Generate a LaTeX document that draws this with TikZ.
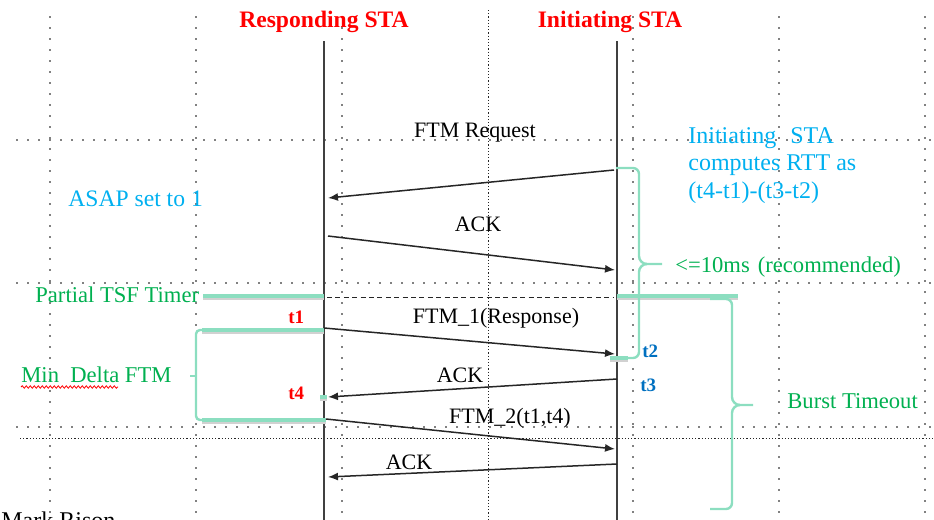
\documentclass[tikz,border=0pt]{standalone}
\usepackage{fontspec}
\setmainfont{Liberation Serif}
\usetikzlibrary{arrows.meta,decorations.pathmorphing}
\definecolor{hdred}{RGB}{255,0,0}
\definecolor{txtcyan}{RGB}{0,176,240}
\definecolor{txtgreen}{RGB}{0,176,80}
\definecolor{mint}{RGB}{140,222,192}
\definecolor{tblue}{RGB}{0,112,192}
\begin{document}
\begin{tikzpicture}[x=0.5pt, y=-0.5pt, >={Latex[length=5pt,width=4pt]},
    font=\fontsize{11}{13}\selectfont,
    griddot/.style={black, line width=0.9pt, line cap=round, dash pattern=on 0pt off 5.5pt},
    griddense/.style={black!85, line width=0.5pt, dash pattern=on 0.6pt off 1pt},
    life/.style={black!75, line width=1pt},
    msg/.style={->, black!85, line width=0.75pt},
    lbl/.style={anchor=base, inner sep=0pt},
    hdr/.style={anchor=base, inner sep=0pt, text=hdred, font=\fontsize{11.8}{14}\selectfont\bfseries},
    note/.style={anchor=base west, inner sep=0pt, text=txtgreen, font=\fontsize{11.3}{13}\selectfont},
    tlbl/.style={anchor=base west, inner sep=0pt, font=\fontsize{9.5}{11}\selectfont\bfseries},
    mintbar/.style={mint, line width=2pt, preaction={draw=black!18, line width=2pt, transform canvas={yshift=-0.8pt}}},
    brace/.style={mint, line width=1.2pt}]
    \useasboundingbox (0,0) rectangle (934,520);

    % grid
    \foreach \gx in {50,196,342,633,779,925}
        \draw[griddot] (\gx,17) -- (\gx,520);
    \draw[griddense] (488,10) -- (488,520);
    \foreach \gy in {140,283,427}
        \draw[griddot] (17,\gy) -- (934,\gy);
    \draw[griddense] (20,438) -- (934,438);

    \coordinate (r0) at (324, 41);
    \coordinate (r1) at (324,520);
    \coordinate (i0) at (617, 41);
    \coordinate (i1) at (617,520);

    \coordinate (m01) at (614,170);
    \coordinate (m02) at (328,198);
    \coordinate (m03) at (328,236);
    \coordinate (m04) at (615,270);
    \coordinate (m05) at (324,328);
    \coordinate (m06) at (615,354);
    \coordinate (m07) at (617,379);
    \coordinate (m08) at (328,397);
    \coordinate (m09) at (326,419);
    \coordinate (m10) at (615,449);
    \coordinate (m11) at (617,464);
    \coordinate (m12) at (328,477);

    \coordinate (p01) at (203,296);
    \coordinate (p02) at (324,296);
    \coordinate (p03) at (327,297);
    \coordinate (p04) at (614,297);
    \coordinate (p05) at (617,296);
    \coordinate (p06) at (738,296);

    \draw[life] (r0) -- (r1);
    \draw[life] (i0) -- (i1);

    \draw[mintbar] (p01) -- (p02);
    \draw[mintbar] (p05) -- (p06);
    \draw[black!85, line width=0.5pt, dash pattern=on 2.5pt off 1.7pt] (p03) -- (p04);

    % Min Delta FTM
    \draw[brace, rounded corners=2pt] (260,330) -- (196,330) -- (196,420) -- (260,420);
    \draw[brace] (190,376) -- (196,376);
    \draw[mintbar] (202,330) -- (324,330);
    \draw[mintbar] (202,420) -- (326,420);
    \draw[mintbar] (320,397) -- (327,397);

    % <=10ms
    \draw[brace] (616,168) -- (633,168) to[out=0,in=90] (639,174) -- (639,256)
        to[out=-90,in=180] (647,264) -- (662,264);
    \draw[brace] (647,264) to[out=180,in=90] (639,272) -- (639,352)
        to[out=-90,in=0] (633,358) -- (625,358);
    \draw[mintbar] (610,358) -- (628,358);

    % Burst Timeout
    \draw[brace] (710,299) -- (726,299) to[out=0,in=90] (732,305) -- (732,397)
        to[out=-90,in=180] (740,405) -- (753,405);
    \draw[brace] (740,405) to[out=180,in=90] (732,413) -- (732,503)
        to[out=-90,in=0] (726,509) -- (710,509);

    \draw[msg] (m01) -- (m02);
    \draw[msg] (m03) -- (m04);
    \draw[msg] (m05) -- (m06);
    \draw[msg] (m07) -- (m08);
    \draw[msg] (m09) -- (m10);
    \draw[msg] (m11) -- (m12);

    \node[hdr] (resp) at (324,27) {Responding STA};
    \node[hdr] (init) at (610,27) {Initiating STA};

    \node[lbl] (req)  at (475,137) {FTM Request};
    \node[lbl] (ack1) at (478,231) {ACK};
    \node[lbl] (ftm1) at (496,323) {FTM\_1(Response)};
    \node[lbl] (ack2) at (460,382) {ACK};
    \node[lbl] (ftm2) at (510,423) {FTM\_2(t1,t4)};
    \node[lbl] (ack3) at (409,469) {ACK};

    \node[anchor=north west, inner sep=0pt, align=left, text=txtcyan,
        font=\fontsize{12}{13.75}\selectfont] (rtt) at (688,127)
        {Initiating\hspace{4pt} STA\\computes RTT as\\(t4-t1)-(t3-t2)};
    \node[anchor=base west, inner sep=0pt, text=txtcyan,
        font=\fontsize{11.8}{13}\selectfont] (asap) at (68,206) {ASAP set to 1};

    \node[note] (tenms) at (675,272) {<=10ms\hspace{4pt}(recommended)};
    \node[note] (tsf)   at (35,302) {Partial TSF Timer};
    \node[note] (mind)  at (21,382) {Min\hspace{0.5em}Delta FTM};
    \node[note] (burst) at (787,408) {Burst Timeout};
    \draw[red, line width=0.4pt, decoration={snake, segment length=2pt, amplitude=0.6pt},
        decorate] (21,387) -- (118,387);

    \node[tlbl, text=hdred] (t1) at (288,323) {t1};
    \node[tlbl, text=hdred] (t4) at (288,399) {t4};
    \node[tlbl, text=tblue] (t2) at (642,357) {t2};
    \node[tlbl, text=tblue] (t3) at (640,391) {t3};

    \node[anchor=base west, inner sep=0pt, font=\fontsize{12}{14}\selectfont] (mark) at (1,528) {Mark Rison};
\end{tikzpicture}
\end{document}
